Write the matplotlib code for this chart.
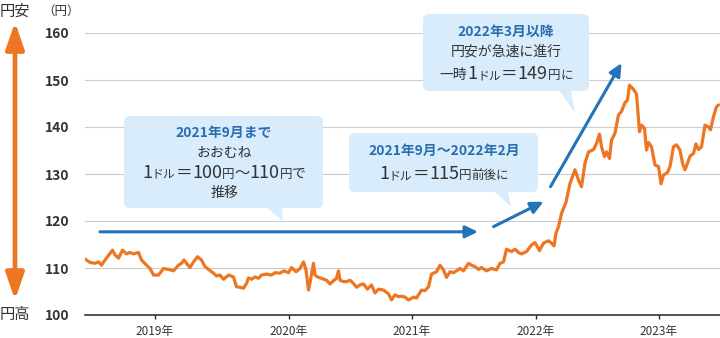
import matplotlib
matplotlib.use("Agg")
import matplotlib.pyplot as plt
from matplotlib.patches import FancyBboxPatch, Polygon, FancyArrowPatch
from matplotlib.offsetbox import TextArea, HPacker, AnnotationBbox

plt.rcParams['font.family'] = ['Noto Sans CJK JP', 'DejaVu Sans']

# Business-day index from the start of the series and the USD/JPY rate (円)
day = [0, 10, 20, 27, 33, 40, 50, 55, 60, 67, 75, 83, 90, 97, 107, 113, 123, 130,
       137, 147, 157, 167, 177, 187, 193, 198, 203, 210, 217, 225, 233, 240, 247,
       257, 263, 270, 277, 287, 297, 303, 310, 317, 323, 327, 333, 340, 347, 353,
       363, 373, 380, 390, 398, 407, 413, 422, 430, 437, 442, 447, 451, 457, 460,
       465, 473, 483, 490, 497, 503, 507, 510, 517, 523, 530, 537, 543, 550, 557,
       565, 573, 580, 587, 597, 607, 613, 620, 627, 633, 640, 647, 657, 663, 673,
       680, 687, 693, 703, 710, 717, 723, 730, 737, 743, 750, 757, 767, 773, 780,
       787, 793, 803, 813, 823, 830, 837, 843, 853, 860, 867, 873, 883, 893, 900,
       909, 917, 927, 933, 938, 942, 947, 953, 962, 970, 980, 987, 993, 1000,
       1007, 1017, 1023, 1029, 1033, 1039, 1043, 1049, 1053, 1060, 1067, 1073,
       1080, 1085, 1089, 1097, 1103, 1109, 1113, 1119, 1123, 1127, 1133, 1140,
       1147, 1152, 1157, 1165, 1170, 1177, 1183, 1190, 1195, 1200, 1205, 1210,
       1217, 1222, 1227, 1233, 1240, 1247, 1251, 1257, 1263, 1267]
rate = [111.9, 111.2, 111.0, 111.3, 110.6, 111.7, 113.1, 113.8, 112.8, 112.1,
        113.8, 113.0, 113.3, 113.0, 113.3, 111.7, 110.6, 109.9, 108.5, 108.5,
        109.9, 109.7, 109.4, 110.6, 111.0, 111.7, 111.0, 110.1, 111.3, 112.4,
        111.7, 110.3, 109.7, 108.9, 108.3, 108.5, 107.6, 108.5, 108.1, 106.0,
        105.9, 105.7, 106.7, 107.9, 107.6, 108.1, 107.8, 108.5, 108.7, 108.5,
        109.0, 108.9, 109.4, 109.0, 110.1, 109.2, 109.9, 111.3, 109.6, 105.3,
        107.4, 111.0, 108.5, 108.1, 107.8, 107.4, 106.6, 107.3, 107.8, 109.4,
        107.4, 107.1, 107.1, 107.4, 106.7, 105.9, 106.4, 106.6, 105.5, 106.4,
        104.7, 105.5, 105.3, 104.5, 103.2, 104.3, 103.9, 104.0, 103.8, 103.2,
        103.8, 103.6, 105.3, 105.2, 106.0, 108.7, 109.2, 110.6, 109.6, 108.0,
        109.2, 109.0, 109.4, 109.9, 109.4, 111.0, 110.6, 110.3, 109.7, 110.1,
        109.4, 109.9, 109.6, 111.0, 111.3, 114.0, 113.5, 114.0, 113.3, 113.0,
        113.5, 114.9, 115.4, 113.7, 115.3, 115.8, 115.3, 114.7, 117.4, 118.8,
        121.6, 124.0, 128.0, 130.9, 128.7, 127.3, 132.3, 134.7, 135.2, 136.5,
        138.5, 135.8, 133.7, 134.7, 133.3, 137.2, 138.7, 142.6, 143.3, 145.2,
        145.7, 148.9, 148.0, 147.0, 139.0, 140.4, 139.7, 135.1, 136.7, 135.8,
        131.9, 131.6, 127.9, 129.8, 130.3, 131.6, 135.8, 136.2, 135.1, 132.3,
        130.9, 132.3, 133.8, 134.4, 136.4, 135.2, 135.8, 140.4, 140.0, 139.4,
        142.2, 144.3, 144.7]

year_labels = ["2019年", "2020年", "2021年", "2022年", "2023年"]
year_start_day = [139, 407, 653, 901, 1147]
y_ticks = [100, 110, 120, 130, 140, 150, 160]

# Trend arrows: (start day, start rate) -> (end day, end rate)
trend_arrows = [((30, 117.7), (786, 117.7)),
                ((817, 118.8), (917, 124.1)),
                ((931, 127.3), (1073, 153.6))]

ORANGE = "#EE7623"
BLUE = "#2472B8"
TITLE_BLUE = "#2A6DB0"
BOX = "#D9ECFB"
TEXT = "#333333"

W, H = 720, 338
fig = plt.figure(figsize=(W / 100, H / 100), dpi=100)
inch = fig.dpi_scale_trans


def pt(x, y):
    """Pixel position (from the top-left corner) to figure inches."""
    return (x / 100, (H - y) / 100)


ax = fig.add_axes([85 / W, (H - 315) / H, 635 / W, 282 / H])
ax.plot(day, rate, color=ORANGE, lw=2.3, solid_joinstyle='round',
        solid_capstyle='round', zorder=3)
ax.set_xlim(0, 1270)
ax.set_ylim(100, 160)
ax.set_yticks(y_ticks)
ax.set_xticks(year_start_day)
ax.set_xticklabels(year_labels)
ax.yaxis.grid(True, color="#CCCCCC", lw=0.8)
ax.set_axisbelow(True)
for side in ("top", "left", "right"):
    ax.spines[side].set_visible(False)
ax.spines["bottom"].set_color("#222222")
ax.spines["bottom"].set_linewidth(1.1)
ax.spines["bottom"].set_zorder(4)
ax.tick_params(axis='y', length=0, pad=11, labelsize=10, labelcolor=TEXT)
ax.tick_params(axis='x', length=3, width=1, color="#222222", pad=4,
               labelsize=8.5, labelcolor=TEXT)
for lab in ax.get_yticklabels():
    lab.set_fontweight('bold')

for (x0, y0), (x1, y1) in trend_arrows:
    ax.annotate("", xy=(x1, y1), xytext=(x0, y0),
                arrowprops=dict(arrowstyle='-|>,head_length=7.5,head_width=3.6',
                                color=BLUE, lw=2.2, shrinkA=0, shrinkB=0,
                                mutation_scale=1), zorder=5)

# Left side: 円安 / 円高 direction arrow
fig.text(*pt(15, 11), "円安", transform=inch, ha='center', va='center',
         fontsize=11, color=TEXT)
fig.text(*pt(15, 314), "円高", transform=inch, ha='center', va='center',
         fontsize=11, color=TEXT)
fig.text(*pt(61, 11), "（円）", transform=inch, ha='center', va='center',
         fontsize=9, color=TEXT)
fig.add_artist(FancyArrowPatch(pt(15, 300), pt(15, 22), transform=inch,
                               arrowstyle='<|-|>,head_length=16,head_width=5.5',
                               mutation_scale=1, lw=3.4, color=ORANGE,
                               shrinkA=0, shrinkB=0))


def callout(left, top, right, bottom, pointer):
    (bx, by) = pt(left, bottom)
    fig.add_artist(FancyBboxPatch((bx, by), (right - left) / 100, (bottom - top) / 100,
                                  boxstyle="round,pad=0,rounding_size=0.06",
                                  transform=inch, fc=BOX, ec='none', zorder=1))
    fig.add_artist(Polygon([pt(*p) for p in pointer], closed=True,
                           transform=inch, fc=BOX, ec='none', zorder=1))


def line(x, y, s, size=10, color=TEXT, weight='normal'):
    fig.text(*pt(x, y), s, transform=inch, ha='center', va='center',
             fontsize=size, color=color, fontweight=weight, zorder=6)


def mixed(x, y, parts):
    boxes = [TextArea(s, textprops=dict(fontsize=fs, color=TEXT)) for s, fs in parts]
    pack = HPacker(children=boxes, align="baseline", pad=0, sep=0)
    ab = AnnotationBbox(pack, pt(x, y), xycoords=inch, frameon=False,
                        box_alignment=(0.5, 0.5), pad=0, zorder=6)
    fig.add_artist(ab)


# Callout 1
callout(124, 116, 323, 208, [(266, 207), (282, 207), (283, 221)])
line(224, 133, "2021年9月まで", size=10, color=TITLE_BLUE, weight='bold')
line(224, 153, "おおむね", size=10)
mixed(224, 173, [("1", 13), ("ドル", 8.5), ("＝", 12), ("100", 13), ("円", 9),
                 ("〜", 11), ("110", 13), ("円", 9), ("で", 10)])
line(224, 193, "推移", size=10)

# Callout 2
callout(349, 133, 538, 192, [(494, 191), (508, 191), (511, 207)])
line(444, 151, "2021年9月〜2022年2月", size=10, color=TITLE_BLUE, weight='bold')
mixed(444, 174, [("1", 13), ("ドル", 8.5), ("＝", 12), ("115", 13), ("円", 9),
                 ("前後に", 9)])

# Callout 3
callout(423, 14, 589, 91, [(559, 90), (571, 90), (575, 113)])
line(506, 32, "2022年3月以降", size=10, color=TITLE_BLUE, weight='bold')
line(506, 52, "円安が急速に進行", size=10)
mixed(506, 74, [("一時", 10), ("1", 13), ("ドル", 8.5), ("＝", 12), ("149", 13),
                ("円", 9), ("に", 9)])

fig.savefig("out.png", dpi=100)
